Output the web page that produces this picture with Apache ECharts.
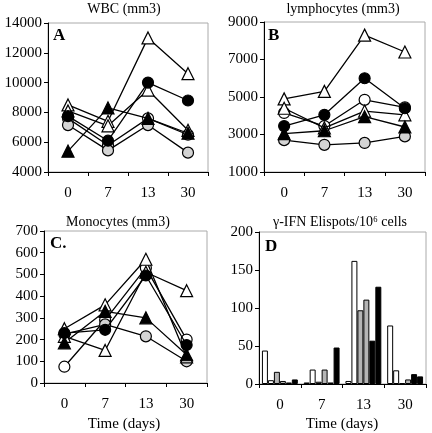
<!DOCTYPE html>
<html><head><meta charset="utf-8">
<script src="https://cdn.jsdelivr.net/npm/echarts@6/dist/echarts.min.js"></script>
<style>html,body{margin:0;padding:0;background:#fff}#c{width:432px;height:433px}</style>
</head><body><div id="c"></div>
<script>
const days = ['0', '7', '13', '30'];

// Panel A: WBC (mm3)
const wbcT1 = [8500, 7400, 13000, 10600];
const wbcT2 = [8100, 7100, 9500, 6800];
const wbcFT = [5400, 8300, 7600, 6600];
const wbcFC = [7750, 6100, 10000, 8800];
const wbcOC = [7600, 5800, 7600, 6500];
const wbcGC = [7150, 5450, 7150, 5300];

// Panel B: lymphocytes (mm3)
const lymT1 = [4900, 5300, 8300, 7400];
const lymT2 = [4400, 3350, 4250, 4050];
const lymFT = [3050, 3200, 3950, 3400];
const lymFC = [3450, 4050, 6000, 4400];
const lymOC = [4150, 3450, 4850, 4450];
const lymGC = [2700, 2450, 2550, 2900];

// Panel C: Monocytes (mm3)
const monT1 = [250, 360, 570, 120];
const monT2 = [215, 150, 510, 425];
const monFT = [185, 330, 300, 130];
const monFC = [230, 245, 495, 175];
const monOC = [75, 290, 530, 200];
const monGC = [225, 270, 215, 100];

// Panel D: gamma-IFN Elispots / 10^6 cells
const elW1 = [44, 2, 4, 77];
const elW2 = [5, 19, 162, 18];
const elG1 = [16, 3, 97, 1];
const elG2 = [4, 19, 111, 6];
const elB1 = [2, 2, 57, 13];
const elB2 = [6, 48, 128, 10];

const FONT = '"Liberation Serif", "DejaVu Serif", serif';
const grids = [
  {left: 48, top: 23, width: 160, height: 149},
  {left: 264, top: 22, width: 161, height: 150},
  {left: 44, top: 231, width: 163, height: 152},
  {left: 259, top: 232, width: 167, height: 152}
];
const yCfg = [
  {min: 4000, max: 14000, interval: 2000},
  {min: 1000, max: 9000, interval: 2000},
  {min: 0, max: 700, interval: 100},
  {min: 0, max: 200, interval: 50}
];
const xAxis = grids.map((g, i) => ({
  type: 'category', gridIndex: i, data: days, boundaryGap: true,
  axisLine: {lineStyle: {color: '#000', width: 1}},
  axisTick: {show: true, inside: false, length: 4, lineStyle: {color: '#000'}},
  axisLabel: {color: '#000', fontFamily: FONT, fontSize: 15, margin: 14},
  splitLine: {show: false}
}));
const yAxis = yCfg.map((c, i) => ({
  type: 'value', gridIndex: i, min: c.min, max: c.max, interval: c.interval,
  axisLine: {show: true, lineStyle: {color: '#000', width: 1}},
  axisTick: {show: true, inside: false, length: 4, lineStyle: {color: '#000'}},
  axisLabel: {color: '#000', fontFamily: FONT, fontSize: 15, margin: 6, formatter: v => String(v)},
  splitLine: {show: false}
}));

const styles = {
  T1: {symbol: 'triangle', fill: '#fff', size: 12},
  T2: {symbol: 'triangle', fill: '#fff', size: 12},
  FT: {symbol: 'triangle', fill: '#000', size: 12},
  FC: {symbol: 'circle', fill: '#000', size: 11},
  OC: {symbol: 'circle', fill: '#fff', size: 11},
  GC: {symbol: 'circle', fill: '#d4d4d4', size: 11}
};
function line(name, data, idx, key) {
  const s = styles[key];
  return {
    type: 'line', name: name, data: data, xAxisIndex: idx, yAxisIndex: idx,
    symbol: s.symbol, symbolSize: s.size, showAllSymbol: true,
    lineStyle: {color: '#000', width: 1.3},
    itemStyle: {color: s.fill, borderColor: '#000', borderWidth: 1.2},
    animation: false, z: key === 'GC' || key === 'OC' ? 3 : 4
  };
}
const series = [];
[[wbcT1, wbcT2, wbcFT, wbcFC, wbcOC, wbcGC],
 [lymT1, lymT2, lymFT, lymFC, lymOC, lymGC],
 [monT1, monT2, monFT, monFC, monOC, monGC]].forEach((arrs, idx) => {
  ['T1', 'T2', 'FT', 'FC', 'OC', 'GC'].forEach((k, j) => series.push(line(k + idx, arrs[j], idx, k)));
});
const barCols = ['#fff', '#fff', '#b5b5b5', '#b5b5b5', '#000', '#000'];
[elW1, elW2, elG1, elG2, elB1, elB2].forEach((d, j) => {
  series.push({
    type: 'bar', data: d, xAxisIndex: 3, yAxisIndex: 3,
    barGap: '0%', barCategoryGap: '14%',
    itemStyle: {color: barCols[j], borderColor: '#000', borderWidth: 1},
    animation: false
  });
});

function txt(x, y, text, size, bold) {
  return {type: 'text', x: x, y: y, style: {text: text, fontFamily: FONT, fontSize: size,
    fontWeight: bold ? 'bold' : 'normal', fill: '#000', align: 'center', verticalAlign: 'middle'}, z: 10};
}
function ltxt(x, y, text) {
  return {type: 'text', x: x, y: y, style: {text: text, fontFamily: FONT, fontSize: 17,
    fontWeight: 'bold', fill: '#000', align: 'left', verticalAlign: 'middle'}, z: 10};
}
const graphic = [
  txt(124, 9, 'WBC (mm3)', 14),
  txt(343, 9, 'lymphocytes (mm3)', 14),
  txt(118, 222, 'Monocytes (mm3)', 14),
  txt(340, 222, 'γ-IFN Elispots/10⁶ cells', 14),
  txt(124, 424, 'Time (days)', 15),
  txt(342, 424, 'Time (days)', 15),
  ltxt(53, 36, 'A'),
  ltxt(268, 36, 'B'),
  ltxt(50, 244, 'C.'),
  ltxt(265, 247, 'D')
];

const chart = echarts.init(document.getElementById('c'), null, {renderer: 'canvas'});
chart.setOption({
  animation: false,
  backgroundColor: '#fff',
  grid: grids.map(g => Object.assign({show: true, borderColor: '#aaa', borderWidth: 1, containLabel: false}, g)),
  xAxis: xAxis, yAxis: yAxis, series: series, graphic: graphic
});
</script></body></html>
